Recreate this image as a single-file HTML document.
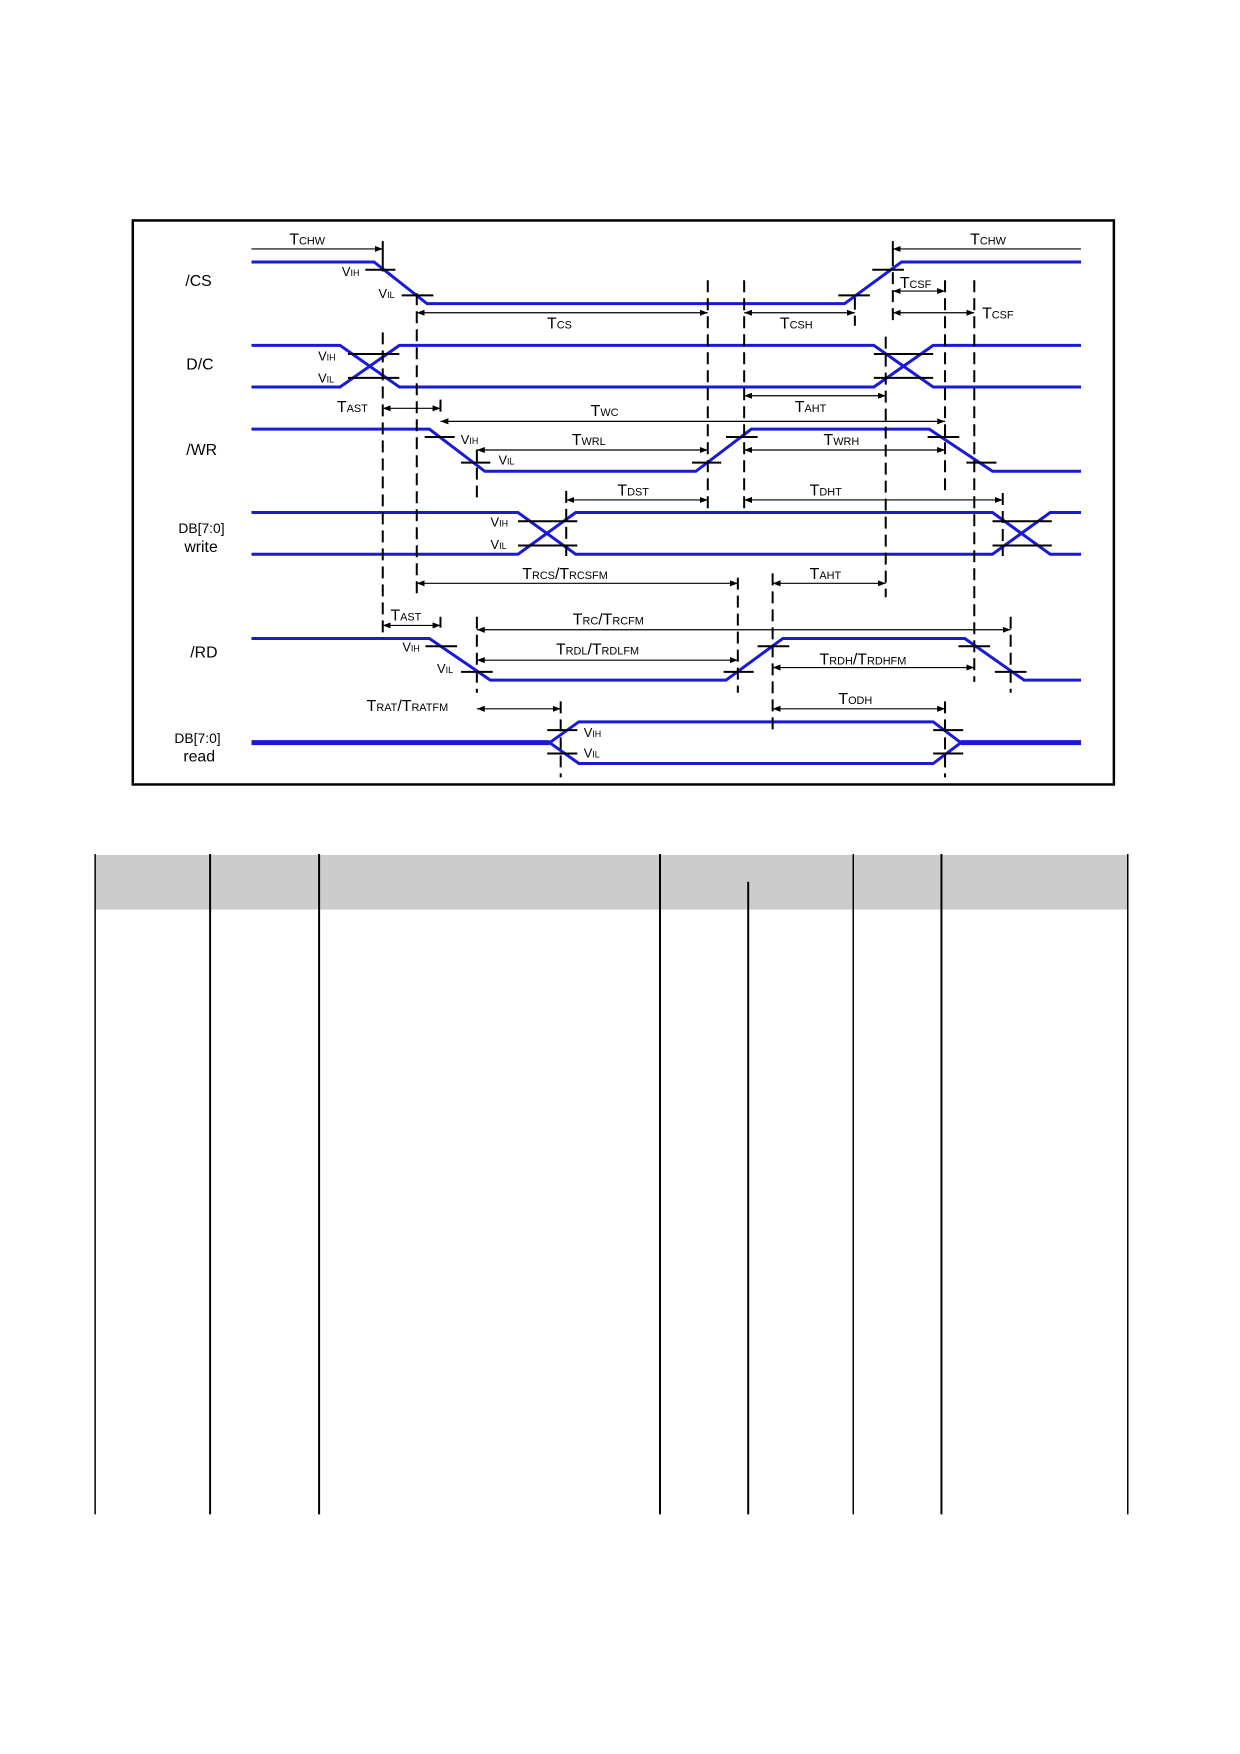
<!DOCTYPE html>
<html><head><meta charset="utf-8"><style>
html,body{margin:0;padding:0;background:#fff;}
svg{display:block;}
text{font-family:"Liberation Sans",sans-serif;fill:#000;}
</style></head><body>
<svg width="1240" height="1754" xmlns="http://www.w3.org/2000/svg">
<defs>
<marker id="a" markerUnits="userSpaceOnUse" markerWidth="12" markerHeight="16" refX="10" refY="7" orient="auto-start-reverse"><path d="M0,0 L10,7 L0,14 z" fill="#000"/></marker>
</defs>
<g transform="scale(0.991,0.993)">
<rect x="134" y="222" width="990" height="568" fill="none" stroke="#000" stroke-width="2.5"/>
<g transform="matrix(0.798 0 0 0.4373 0 151)">
<g fill="none" stroke="#1a1ad6" stroke-width="3" vector-effect="non-scaling-stroke">
<path vector-effect="non-scaling-stroke" d="M318,258 H473 L540,354 H1068 L1140,258 H1367"/>
<path vector-effect="non-scaling-stroke" d="M318,450 H430 L505,546 H1105 L1180,450 H1367"/>
<path vector-effect="non-scaling-stroke" d="M318,546 H430 L505,450 H1105 L1180,546 H1367"/>
<path vector-effect="non-scaling-stroke" d="M318,643 H543 L613,740 H880 L950,643 H1175 L1255,740 H1367"/>
<path vector-effect="non-scaling-stroke" d="M318,835 H655 L728,931 H1255 L1328,835 H1367"/>
<path vector-effect="non-scaling-stroke" d="M318,931 H655 L728,835 H1255 L1328,931 H1367"/>
<path vector-effect="non-scaling-stroke" d="M318,1125 H543 L620,1221 H918 L990,1125 H1220 L1295,1221 H1367"/>
<path vector-effect="non-scaling-stroke" d="M695,1365 L732,1317 H1180 L1215,1365"/>
<path vector-effect="non-scaling-stroke" d="M695,1365 L732,1413 H1180 L1215,1365"/>
<path vector-effect="non-scaling-stroke" stroke-width="5" d="M318,1365 H695 M1215,1365 H1367"/>
</g>
<g stroke="#000" stroke-width="2" fill="none">
<path vector-effect="non-scaling-stroke" d="M462,276H500 M508,335H548 M1060,335H1100 M1103,276H1143
M440,470H505 M440,525H505 M1105,470H1180 M1105,525H1180
M537,661H575 M583,720H620 M875,720H912 M918,661H958 M1173,661H1213 M1222,720H1260
M655,855H730 M655,911H730 M1255,855H1330 M1255,911H1330
M538,1143H578 M583,1202H623 M915,1202H953 M958,1143H998 M1212,1143H1252 M1258,1202H1298
M692,1336H730 M692,1390H730 M1180,1336H1218 M1180,1390H1218
M484,210V280 M1129,210V240"/>
</g>
<g stroke="#000" stroke-width="2" fill="none" stroke-dasharray="12 6">
<path vector-effect="non-scaling-stroke" d="M484,420V1125 M527,330V1030 M895,300V830 M941,300V830 M1081,340V405 M1120,430V1030 M1129,240V400 M1195,300V790 M1195,1270V1445 M1232,300V1225 M603,690V800 M603,1075V1250 M716,785V935 M933,985V1250 M977,975V1345 M1268,790V935 M1278,1075V1250 M709,1270V1445 M557,575V605 M557,1075V1100"/>
</g>
<g stroke="#000" stroke-width="1.2" fill="none">
<path vector-effect="non-scaling-stroke" d="M318,228H484" marker-end="url(#a)"/>
<path vector-effect="non-scaling-stroke" d="M1367,228H1129" marker-end="url(#a)"/>
<path vector-effect="non-scaling-stroke" d="M527,375H895" marker-start="url(#a)" marker-end="url(#a)"/>
<path vector-effect="non-scaling-stroke" d="M941,375H1081" marker-start="url(#a)" marker-end="url(#a)"/>
<path vector-effect="non-scaling-stroke" d="M1129,325H1195" marker-start="url(#a)" marker-end="url(#a)"/>
<path vector-effect="non-scaling-stroke" d="M1129,375H1232" marker-start="url(#a)" marker-end="url(#a)"/>
<path vector-effect="non-scaling-stroke" d="M941,566H1120" marker-start="url(#a)" marker-end="url(#a)"/>
<path vector-effect="non-scaling-stroke" d="M484,595H557" marker-start="url(#a)" marker-end="url(#a)"/>
<path vector-effect="non-scaling-stroke" d="M557,625H1195" marker-start="url(#a)" marker-end="url(#a)"/>
<path vector-effect="non-scaling-stroke" d="M603,691H895" marker-start="url(#a)" marker-end="url(#a)"/>
<path vector-effect="non-scaling-stroke" d="M941,691H1195" marker-start="url(#a)" marker-end="url(#a)"/>
<path vector-effect="non-scaling-stroke" d="M716,806H895" marker-start="url(#a)" marker-end="url(#a)"/>
<path vector-effect="non-scaling-stroke" d="M941,806H1268" marker-start="url(#a)" marker-end="url(#a)"/>
<path vector-effect="non-scaling-stroke" d="M527,998H933" marker-start="url(#a)" marker-end="url(#a)"/>
<path vector-effect="non-scaling-stroke" d="M977,998H1120" marker-start="url(#a)" marker-end="url(#a)"/>
<path vector-effect="non-scaling-stroke" d="M484,1095H557" marker-start="url(#a)" marker-end="url(#a)"/>
<path vector-effect="non-scaling-stroke" d="M603,1105H1278" marker-start="url(#a)" marker-end="url(#a)"/>
<path vector-effect="non-scaling-stroke" d="M603,1175H933" marker-start="url(#a)" marker-end="url(#a)"/>
<path vector-effect="non-scaling-stroke" d="M977,1192H1232" marker-start="url(#a)" marker-end="url(#a)"/>
<path vector-effect="non-scaling-stroke" d="M603,1287H709" marker-start="url(#a)" marker-end="url(#a)"/>
<path vector-effect="non-scaling-stroke" d="M977,1287H1195" marker-start="url(#a)" marker-end="url(#a)"/>
</g>
</g>
<g font-size="16">
<text x="187" y="288">/CS</text>
<text x="188" y="372">D/C</text>
<text x="188" y="458">/WR</text>
<text x="180" y="537" font-size="14">DB[7:0]</text>
<text x="186" y="556">write</text>
<text x="192" y="662">/RD</text>
<text x="176" y="748" font-size="14">DB[7:0]</text>
<text x="185" y="767">read</text>
</g>
<g font-size="16">
<text x="292" y="246">T<tspan font-size="11">CHW</tspan></text>
<text x="979" y="246">T<tspan font-size="11">CHW</tspan></text>
<text x="908" y="290">T<tspan font-size="11">CSF</tspan></text>
<text x="552" y="331">T<tspan font-size="11">CS</tspan></text>
<text x="787" y="331">T<tspan font-size="11">CSH</tspan></text>
<text x="991" y="321">T<tspan font-size="11">CSF</tspan></text>
<text x="340" y="415">T<tspan font-size="11">AST</tspan></text>
<text x="596" y="419">T<tspan font-size="11">WC</tspan></text>
<text x="802" y="415">T<tspan font-size="11">AHT</tspan></text>
<text x="577" y="448">T<tspan font-size="11">WRL</tspan></text>
<text x="831" y="448">T<tspan font-size="11">WRH</tspan></text>
<text x="623" y="499">T<tspan font-size="11">DST</tspan></text>
<text x="817" y="499">T<tspan font-size="11">DHT</tspan></text>
<text x="527" y="583">T<tspan font-size="11">RCS</tspan>/T<tspan font-size="11">RCSFM</tspan></text>
<text x="817" y="583">T<tspan font-size="11">AHT</tspan></text>
<text x="394" y="625">T<tspan font-size="11">AST</tspan></text>
<text x="578" y="629">T<tspan font-size="11">RC</tspan>/T<tspan font-size="11">RCFM</tspan></text>
<text x="561" y="659">T<tspan font-size="11">RDL</tspan>/T<tspan font-size="11">RDLFM</tspan></text>
<text x="827" y="669">T<tspan font-size="11">RDH</tspan>/T<tspan font-size="11">RDHFM</tspan></text>
<text x="370" y="716">T<tspan font-size="11">RAT</tspan>/T<tspan font-size="11">RATFM</tspan></text>
<text x="846" y="709">T<tspan font-size="11">ODH</tspan></text>
</g>
<g font-size="13">
<text x="345" y="278">V<tspan font-size="9">IH</tspan></text>
<text x="382" y="300">V<tspan font-size="9">IL</tspan></text>
<text x="321" y="363">V<tspan font-size="9">IH</tspan></text>
<text x="321" y="385">V<tspan font-size="9">IL</tspan></text>
<text x="465" y="447">V<tspan font-size="9">IH</tspan></text>
<text x="503" y="468">V<tspan font-size="9">IL</tspan></text>
<text x="495" y="530">V<tspan font-size="9">IH</tspan></text>
<text x="495" y="553">V<tspan font-size="9">IL</tspan></text>
<text x="406" y="656">V<tspan font-size="9">IH</tspan></text>
<text x="441" y="678">V<tspan font-size="9">IL</tspan></text>
<text x="589" y="742">V<tspan font-size="9">IH</tspan></text>
<text x="589" y="763">V<tspan font-size="9">IL</tspan></text>
</g>
<rect x="96" y="861" width="1042" height="55" fill="#cccccc"/>
<g stroke="#000" stroke-width="2">
<line x1="96" y1="860" x2="96" y2="1525" stroke-width="1.5"/>
<line x1="212" y1="860" x2="212" y2="1525"/>
<line x1="322" y1="860" x2="322" y2="1525"/>
<line x1="666" y1="860" x2="666" y2="1525"/>
<line x1="755" y1="888" x2="755" y2="1525"/>
<line x1="861" y1="860" x2="861" y2="1525" stroke-width="1.5"/>
<line x1="950" y1="860" x2="950" y2="1525"/>
<line x1="1138" y1="860" x2="1138" y2="1525" stroke-width="1.5"/>
</g>
</g>
</svg>
</body></html>
